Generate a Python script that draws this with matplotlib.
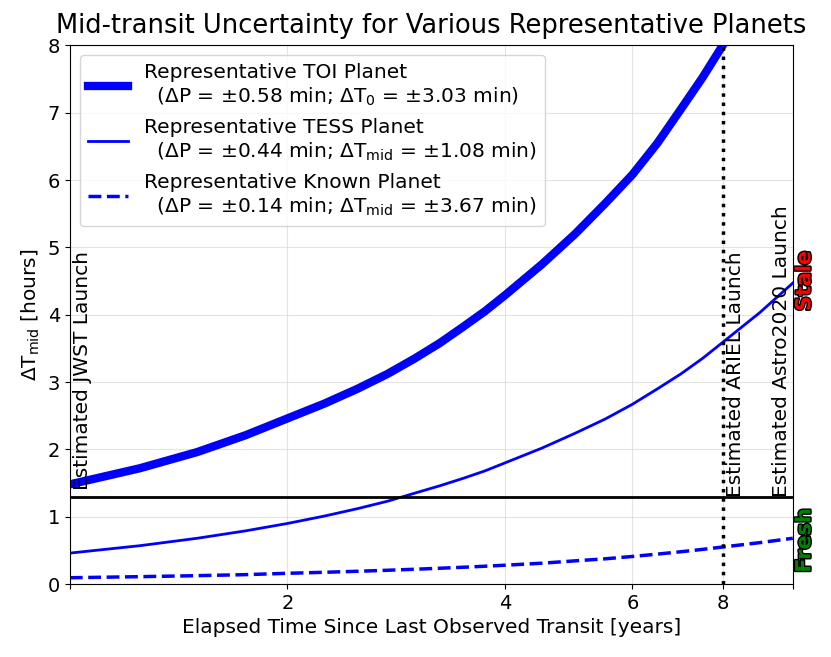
import matplotlib
matplotlib.use("Agg")
import matplotlib.pyplot as plt
import matplotlib.patheffects as pe

# elapsed time [years] and mid-transit uncertainty [hours]
years = [1, 1.25, 1.5, 1.75, 2, 2.25, 2.5, 2.75, 3, 3.25, 3.5, 3.75, 4, 4.5, 5,
         5.5, 6, 6.5, 7, 7.5, 8, 9, 10]
toi_hours = [1.48, 1.72, 1.96, 2.21, 2.46, 2.68, 2.90, 3.12, 3.35, 3.58, 3.82, 4.05,
             4.29, 4.75, 5.20, 5.65, 6.08, 6.55, 7.05, 7.52, 8.00, 8.95, 9.90]
tess_hours = [0.46, 0.57, 0.68, 0.79, 0.90, 1.01, 1.12, 1.23, 1.35, 1.46, 1.57, 1.68,
              1.80, 2.02, 2.24, 2.45, 2.67, 2.90, 3.12, 3.35, 3.59, 4.03, 4.47]
known_hours = [0.094, 0.11, 0.125, 0.14, 0.16, 0.175, 0.19, 0.205, 0.22, 0.235, 0.25,
               0.265, 0.28, 0.31, 0.345, 0.375, 0.41, 0.445, 0.48, 0.515, 0.55,
               0.615, 0.68]

labels = [
    "Representative TOI Planet\n  ($\\Delta$P = $\\pm$0.58 min; $\\Delta$T$_0$ = $\\pm$3.03 min)",
    "Representative TESS Planet\n  ($\\Delta$P = $\\pm$0.44 min; $\\Delta$T$_{\\rm mid}$ = $\\pm$1.08 min)",
    "Representative Known Planet\n  ($\\Delta$P = $\\pm$0.14 min; $\\Delta$T$_{\\rm mid}$ = $\\pm$3.67 min)",
]

stale_limit = 1.29
jwst_year = 1.0
ariel_year = 8.0
astro_year = 10.0

xticks = [1, 2, 4, 6, 8, 10]
xticklabels = ["", "2", "4", "6", "8", ""]

fig = plt.figure(figsize=(8.31, 6.57), dpi=100)
ax = fig.add_axes([0.084, 0.111, 0.870, 0.820])

ax.plot(years, toi_hours, color="blue", lw=6, label=labels[0])
ax.plot(years, tess_hours, color="blue", lw=2, label=labels[1])
ax.plot(years, known_hours, color="blue", lw=2.5, ls="--", label=labels[2])

ax.axhline(stale_limit, color="black", lw=2)
ax.axvline(ariel_year, color="black", lw=2.5, ls=":")

ax.text(jwst_year * 1.01, 1.4, "Estimated JWST Launch", rotation=90,
        ha="left", va="bottom", fontsize=14.5)
ax.text(ariel_year * 1.01, 1.3, "Estimated ARIEL Launch", rotation=90,
        ha="left", va="bottom", fontsize=14.5)
ax.text(astro_year * 0.995, 1.3, "Estimated Astro2020 Launch", rotation=90,
        ha="right", va="bottom", fontsize=14.5)

outline = [pe.withStroke(linewidth=2, foreground="black")]
ax.text(1.016, 4.5, "Stale", rotation=90, color="red", fontsize=15,
        fontweight="bold", ha="center", va="center",
        transform=ax.get_yaxis_transform(), path_effects=outline)
ax.text(1.016, 0.65, "Fresh", rotation=90, color="green", fontsize=15,
        fontweight="bold", ha="center", va="center",
        transform=ax.get_yaxis_transform(), path_effects=outline)

ax.set_xscale("log")
ax.set_xlim(1, 10)
ax.set_ylim(0, 8)
ax.set_xticks(xticks)
ax.set_xticklabels(xticklabels)
ax.xaxis.set_minor_locator(matplotlib.ticker.NullLocator())
ax.tick_params(labelsize=14)
ax.grid(True, color="lightgray", alpha=0.6)

ax.set_xlabel("Elapsed Time Since Last Observed Transit [years]", fontsize=14.5)
ax.set_ylabel("$\\Delta$T$_{\\rm mid}$ [hours]", fontsize=14.5)
ax.set_title("Mid-transit Uncertainty for Various Representative Planets",
             fontsize=18.5, pad=9)

ax.legend(loc="upper left", fontsize=14.5)

fig.savefig("out.png")
plt.close(fig)
